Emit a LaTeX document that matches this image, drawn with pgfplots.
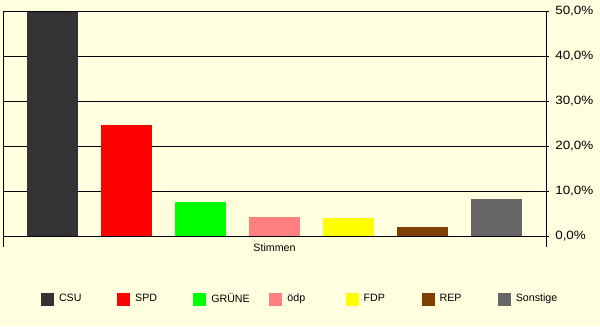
\documentclass[border=0pt]{standalone}
\usepackage{pgfplots}
\pgfplotsset{compat=1.18}
\usepackage{fontspec}
\setmainfont{Liberation Sans}
\newfontfamily\tickfont[FakeStretch=1.12]{Liberation Sans}
\definecolor{bg}{HTML}{FFFFE0}
\definecolor{csu}{HTML}{333333}
\definecolor{spd}{HTML}{FF0000}
\definecolor{gruene}{HTML}{00FF00}
\definecolor{oedp}{HTML}{FF8080}
\definecolor{fdp}{HTML}{FFFF00}
\definecolor{rep}{HTML}{7F3F00}
\definecolor{sonst}{HTML}{666666}
\pgfplotsset{mybar/.style={fill=#1, draw=none, bar shift=0pt,
  legend image code/.code={\fill[##1] (0pt,-4.875pt) rectangle (9.75pt,4.875pt);}}}
\begin{document}
\begin{tikzpicture}
\useasboundingbox (0,0) rectangle (450pt,244.5pt);
\fill[bg] (0,0) rectangle (450pt,244.5pt);
\begin{axis}[
  at={(2.25pt,67.5pt)}, anchor=south west,
  scale only axis, width=407.25pt, height=168.75pt,
  ybar, bar width=0.689,
  xmin=-0.669, xmax=6.669, ymin=0, ymax=50,
  xtick=\empty,
  extra x ticks={-0.669,6.669}, extra x tick labels={},
  extra x tick style={major tick length=8.25pt, tick align=outside, xtick pos=bottom},
  ytick={0,10,...,50}, ytick pos=right, yticklabel pos=right,
  yticklabel={\pgfmathprintnumber[fixed,fixed zerofill,precision=1,use comma]{\tick}\%},
  /pgf/number format/assume math mode=true,
  tick align=outside, major tick length=2.25pt,
  tick style={black, line width=0.75pt},
  ymajorgrids, grid style={black, line width=0.75pt},
  axis line style={black, line width=0.75pt},
  yticklabel style={font=\tickfont\fontsize{9}{10}\selectfont, anchor=west, inner sep=0pt, xshift=4.5pt},
  xlabel={Stimmen}, xlabel style={font=\fontsize{8}{9.6}\selectfont, at={(axis description cs:0.5,0)}, anchor=center, yshift=-9pt},
  legend columns=7,
  legend style={at={(0.07,-0.28)}, anchor=west, draw=none, fill=none, inner sep=0pt, outer sep=0pt,
    font=\fontsize{8}{9.6}\selectfont,
    nodes={inner sep=0pt},
    /tikz/every odd column/.style={column sep=3.75pt},
    /tikz/every even column/.style={column sep=0pt}},
]
\addplot[mybar=csu] coordinates {(0,49.8)};
\addlegendentry{\makebox[43.6pt][l]{CSU}}
\addplot[mybar=spd] coordinates {(1,24.7)};
\addlegendentry{\makebox[43.6pt][l]{SPD}}
\addplot[mybar=gruene] coordinates {(2,7.6)};
\addlegendentry{\makebox[43.6pt][l]{GRÜNE}}
\addplot[mybar=oedp] coordinates {(3,4.3)};
\addlegendentry{\makebox[43.6pt][l]{ödp}}
\addplot[mybar=fdp] coordinates {(4,4.1)};
\addlegendentry{\makebox[43.6pt][l]{FDP}}
\addplot[mybar=rep] coordinates {(5,2.0)};
\addlegendentry{\makebox[43.6pt][l]{REP}}
\addplot[mybar=sonst] coordinates {(6,8.2)};
\addlegendentry{\makebox[30pt][l]{Sonstige}}
\end{axis}
\end{tikzpicture}
\end{document}
